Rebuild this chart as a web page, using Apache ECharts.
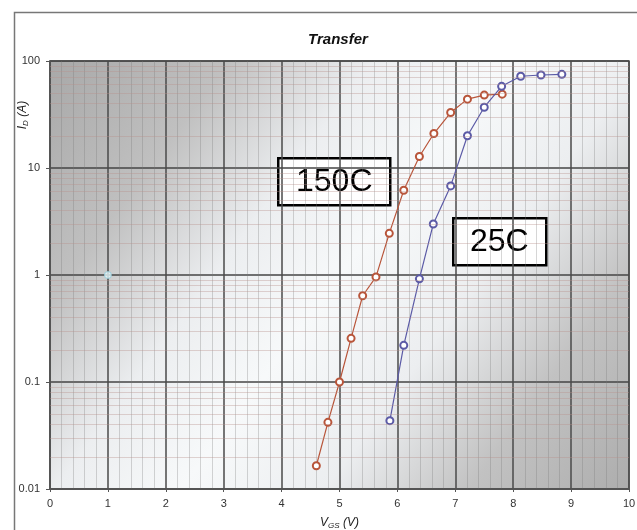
<!DOCTYPE html>
<html>
<head>
<meta charset="utf-8">
<script src="https://cdn.jsdelivr.net/npm/echarts@6/dist/echarts.min.js"></script>
<style>
  html, body { margin: 0; padding: 0; background: #fff; }
  #chart { width: 637px; height: 530px; }
</style>
</head>
<body>
<div id="chart"></div>
<script>
// Transfer curves
const vgs150 = [4.6, 4.8, 5.0, 5.2, 5.4, 5.63, 5.86, 6.11, 6.38, 6.63, 6.92, 7.21, 7.5, 7.81]
const id150 = [0.0165, 0.042, 0.10, 0.256, 0.64, 0.96, 2.45, 6.2, 12.8, 21, 33, 44, 48, 49]
const vgs25 = [5.87, 6.11, 6.38, 6.62, 6.92, 7.21, 7.5, 7.8, 8.13, 8.48, 8.84]
const id25 = [0.0435, 0.22, 0.92, 3.0, 6.8, 20, 37, 58, 72, 74, 75]
const refPoint = [[1, 1]]

const xTicks = [0, 1, 2, 3, 4, 5, 6, 7, 8, 9, 10]
const yTicks = ['0.01', '0.1', '1', '10', '100']

const FONT = '"Liberation Sans", Arial, sans-serif'

// minor log grid: 2..9 in every decade
const minorY = []
for (let d = 0.01; d < 100; d *= 10) {
    for (let k = 2; k <= 9; k++) minorY.push({ yAxis: +(d * k).toPrecision(3) })
}

const pairs = (xs, ys) => xs.map((x, i) => [x, ys[i]])

const chart = echarts.init(document.getElementById('chart'))
chart.setOption({
    animation: false,
    title: {
        text: 'Transfer',
        left: 333,
        textAlign: 'center',
        top: 27,
        textStyle: { fontFamily: FONT, fontSize: 15, fontWeight: 'bold', fontStyle: 'italic', color: '#111' }
    },
    grid: {
        left: 50, right: 8, top: 61, bottom: 41,
        outerBoundsMode: 'none',
        containLabel: false,
        show: true,
        borderColor: '#555',
        borderWidth: 1.5,
        backgroundColor: {
            type: 'linear', x: 0, y: 0, x2: 1, y2: 1,
            colorStops: [
                { offset: 0, color: '#a8a8a8' },
                { offset: 0.2, color: '#c0c0c0' },
                { offset: 0.36, color: '#eceef0' },
                { offset: 0.5, color: '#f7f9fa' },
                { offset: 0.66, color: '#eceef0' },
                { offset: 0.82, color: '#c2c2c2' },
                { offset: 1, color: '#adadad' }
            ]
        }
    },
    graphic: [
        {
            type: 'rect', left: 12, top: 10, silent: true,
            shape: { width: 700, height: 600 },
            style: { fill: 'none', stroke: '#777', lineWidth: 1.5 }
        },
        {
            type: 'text', x: 23, y: 115, rotation: Math.PI / 2, silent: true,
            style: {
                text: '{i|I}{s|D}{n| (A)}',
                align: 'center', verticalAlign: 'middle',
                rich: {
                    i: { fontFamily: FONT, fontSize: 12, fontStyle: 'italic', fill: '#222' },
                    s: { fontFamily: FONT, fontSize: 8, fontStyle: 'italic', fill: '#222', padding: [6, 0, 0, 0] },
                    n: { fontFamily: FONT, fontSize: 12, fontStyle: 'italic', fill: '#222' }
                }
            }
        },
        {
            type: 'group', left: 277, top: 157,
            children: [
                { type: 'rect', shape: { width: 112, height: 47 }, style: { fill: '#fff', stroke: '#000', lineWidth: 2.5 } },
                { type: 'text', x: 56, y: 24, style: { text: '150C', align: 'center', verticalAlign: 'middle', font: '32px ' + FONT, fill: '#000' } }
            ]
        },
        {
            type: 'group', left: 452, top: 217,
            children: [
                { type: 'rect', shape: { width: 93, height: 47 }, style: { fill: '#fff', stroke: '#000', lineWidth: 2.5 } },
                { type: 'text', x: 46, y: 24, style: { text: '25C', align: 'center', verticalAlign: 'middle', font: '32px ' + FONT, fill: '#000' } }
            ]
        }
    ],
    xAxis: {
        type: 'value',
        min: 0, max: 10, interval: 1,
        name: '{i|V}{s|GS}{n| (V)}',
        nameLocation: 'middle',
        nameGap: 27,
        nameTextStyle: {
            rich: {
                i: { fontFamily: FONT, fontSize: 12, fontStyle: 'italic', color: '#222' },
                s: { fontFamily: FONT, fontSize: 8, fontStyle: 'italic', color: '#222', padding: [6, 0, 0, 0] },
                n: { fontFamily: FONT, fontSize: 12, fontStyle: 'italic', color: '#222' }
            }
        },
        axisLine: { show: true, onZero: false, lineStyle: { color: '#555', width: 1.5 } },
        axisTick: { show: true, length: 3, lineStyle: { color: '#555' } },
        axisLabel: {
            margin: 9, fontFamily: FONT, fontSize: 11, color: '#333',
            formatter: v => xTicks.includes(v) ? String(v) : ''
        },
        splitLine: { show: true, lineStyle: { color: '#4a4a4a', width: 1.5 } },
        minorTick: { show: false, splitNumber: 5 },
        minorSplitLine: { show: true, lineStyle: { color: 'rgba(120,120,120,0.3)', width: 1 } }
    },
    yAxis: {
        type: 'log',
        logBase: 10,
        min: 0.01, max: 100,
        axisLine: { show: true, lineStyle: { color: '#555', width: 1.5 } },
        axisTick: { show: true, length: 4, lineStyle: { color: '#555' } },
        axisLabel: {
            margin: 10, fontFamily: FONT, fontSize: 11, color: '#333',
            formatter: v => yTicks.find(t => Math.abs(+t - v) < v * 1e-6) || ''
        },
        splitLine: { show: true, lineStyle: { color: '#444', width: 1.5 } }
    },
    series: [
        {
            name: 'grid',
            type: 'scatter',
            data: refPoint,
            symbol: 'circle',
            symbolSize: 7,
            itemStyle: { color: '#e4f6fa', borderColor: '#8cc8d8', borderWidth: 1 },
            z: 3,
            markLine: {
                silent: true,
                symbol: 'none',
                label: { show: false },
                lineStyle: { type: 'solid', color: 'rgba(185,145,140,0.38)', width: 1 },
                data: minorY
            }
        },
        {
            name: '150C',
            type: 'line',
            data: pairs(vgs150, id150),
            symbol: 'emptyCircle',
            symbolSize: 7,
            lineStyle: { color: '#b8553a', width: 1.2 },
            itemStyle: { color: '#b8553a', borderWidth: 1 },
            z: 4
        },
        {
            name: '25C',
            type: 'line',
            data: pairs(vgs25, id25),
            symbol: 'emptyCircle',
            symbolSize: 7,
            lineStyle: { color: '#5b5aa6', width: 1.2 },
            itemStyle: { color: '#5b5aa6', borderWidth: 1 },
            z: 4
        }
    ]
})
</script>
</body>
</html>
